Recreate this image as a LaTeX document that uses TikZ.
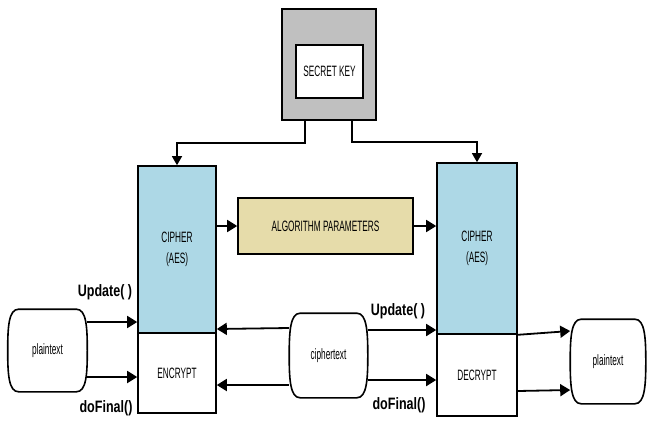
\documentclass[tikz,border=0pt]{standalone}
\usepackage{fontspec}
\usetikzlibrary{arrows.meta}
\newfontfamily\cf[FakeStretch=0.55]{Liberation Sans}
\newfontfamily\lblfont[FakeStretch=0.76]{Liberation Sans}
\definecolor{keygrey}{HTML}{C0C0C0}
\definecolor{cipblue}{HTML}{ADD8E6}
\definecolor{algotan}{HTML}{E6DCAA}
\tikzset{
  box/.style={draw=black, line width=1.6pt, inner sep=0pt, font=\cf\fontsize{15}{21}\selectfont, align=center},
  blob/.style={box, draw=none},
  blobline/.style={line width=1.6pt, draw=black, fill=white, line join=round},
  arr/.style={line width=1.8pt, -{Triangle[length=10pt,width=12pt]}},
  lnk/.style={line width=1.3pt},
  lbl/.style={font=\lblfont\bfseries\fontsize{16.5}{18}\selectfont, inner sep=0pt}
}
\newcommand\blobshape[1]{%
  \draw[blobline] ([xshift=11pt]#1.north west) -- ([xshift=-11pt]#1.north east)
    .. controls ([xshift=-1pt]#1.north east) and ([yshift=24pt]#1.east) .. (#1.east)
    .. controls ([yshift=-24pt]#1.east) and ([xshift=-1pt]#1.south east) .. ([xshift=-11pt]#1.south east)
    -- ([xshift=11pt]#1.south west)
    .. controls ([xshift=1pt]#1.south west) and ([yshift=-24pt]#1.west) .. (#1.west)
    .. controls ([yshift=24pt]#1.west) and ([xshift=1pt]#1.north west) .. ([xshift=11pt]#1.north west)
    -- cycle;}
\begin{document}
\begin{tikzpicture}[x=1pt,y=-1pt]
\useasboundingbox (0,0) rectangle (647,428);
% secret key
\node[box, fill=keygrey, minimum width=94pt, minimum height=111pt] (keyo) at (329,64.5) {};
\node[box, fill=white, minimum width=67pt, minimum height=53pt] (keyi) at (329.5,71.5) {SECRET KEY};
% ciphers
\node[box, fill=cipblue, minimum width=78pt, minimum height=167pt] (cipL) at (177,249.5) {CIPHER\\(AES)};
\node[box, fill=white, minimum width=78pt, minimum height=80pt] (encL) at (177,373) {ENCRYPT};
\node[box, fill=cipblue, minimum width=80pt, minimum height=171pt] (cipR) at (477,248.5) {CIPHER\\(AES)};
\node[box, fill=white, minimum width=80pt, minimum height=82pt] (decR) at (477,375) {DECRYPT};
\node[box, fill=algotan, minimum width=175pt, minimum height=56pt] (algo) at (325.5,226) {ALGORITHM PARAMETERS};
% data blobs
\node[blob, minimum width=78pt, minimum height=81pt] (ptL) at (47.5,350.5) {};
\node[blob, minimum width=77pt, minimum height=83pt] (ct) at (328.5,355.5) {};
\node[blob, minimum width=74pt, minimum height=83pt] (ptR) at (608,361.5) {};
\blobshape{ptL}\blobshape{ct}\blobshape{ptR}
\node[box, draw=none] (ptLt) at (ptL.center) {plaintext};
\node[box, draw=none] (ctt) at (ct.center) {ciphertext};
\node[box, draw=none] (ptRt) at (ptR.center) {plaintext};
% labels
\node[lbl] (uL) at (105,292) {Update( )};
\node[lbl] (dL) at (106,408) {doFinal()};
\node[lbl] (uR) at (398,311) {Update( )};
\node[lbl] (dR) at (399,405) {doFinal()};
% key links
\draw[lnk, -{Triangle[length=9pt,width=10pt]}] (keyo.south -| 305,0) -- (305,143) -| (cipL.north);
\draw[lnk, -{Triangle[length=9pt,width=10pt]}] (keyo.south -| 352,0) -- (352,142) -| (cipR.north);
% algorithm params
\draw[arr] (cipL.east |- algo.west) -- (algo.west);
\draw[arr] (algo.east) -- (cipR.west |- algo.east);
% encrypt side
\draw[arr] (ptL.east |- 0,322) -- (cipL.west |- 0,322);
\draw[arr] (ptL.east |- 0,377) -- (encL.west |- 0,377);
\draw[arr] (ct.west |- 0,328) -- (cipL.east |- 0,329);
\draw[arr] (ct.west |- 0,385) -- (encL.east |- 0,385);
% decrypt side
\draw[arr] (ct.east |- 0,330) -- (cipR.west |- 0,330);
\draw[arr] (ct.east |- 0,380) -- (decR.west |- 0,380);
\draw[arr] (cipR.south east) -- (ptR.west |- 0,331);
\draw[arr] (decR.east |- 0,391) -- (ptR.west |- 0,390);
\end{tikzpicture}
\end{document}
